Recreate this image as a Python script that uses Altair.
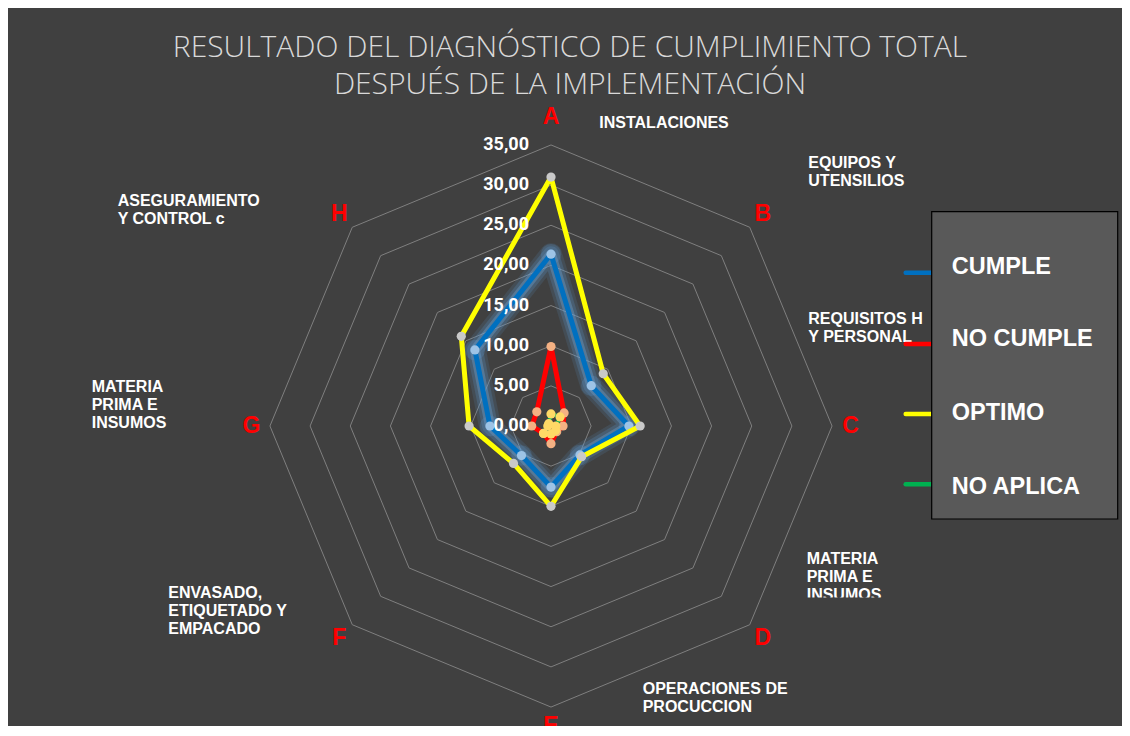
import math
import altair as alt
import pandas as pd

# ---------------- data ----------------
categories = ["A", "B", "C", "D", "E", "F", "G", "H"]
category_names = [
    "INSTALACIONES",
    "EQUIPOS Y\nUTENSILIOS",
    "REQUISITOS H\nY PERSONAL",
    "MATERIA\nPRIMA E\nINSUMOS",
    "OPERACIONES DE\nPROCUCCION",
    "ENVASADO,\nETIQUETADO Y\nEMPACADO",
    "MATERIA\nPRIMA E\nINSUMOS",
    "ASEGURAMIENTO\nY CONTROL c",
]
series_names = ["CUMPLE", "NO CUMPLE", "OPTIMO", "NO APLICA"]
cumple = [21.4, 7.1, 9.7, 5.1, 7.6, 5.2, 7.6, 13.4]
no_cumple = [9.9, 2.3, 1.5, 1.0, 2.2, 1.3, 2.4, 2.5]
optimo = [31.0, 9.2, 11.1, 5.4, 10.0, 6.6, 10.2, 15.8]
no_aplica = [1.5, 1.6, 0.6, 0.8, 1.0, 1.3, 0.4, 0.4]
tick_values = [0, 5, 10, 15, 20, 25, 30, 35]
tick_labels = ["0,00", "5,00", "10,00", "15,00", "20,00", "25,00", "30,00", "35,00"]
title_lines = ["RESULTADO DEL DIAGNÓSTICO DE CUMPLIMIENTO TOTAL",
               "DESPUÉS DE LA IMPLEMENTACIÓN"]

# ---------------- layout ----------------
W, H = 1114, 718
CX, CY = 543, 418          # centre of the radar in chart pixels
PX = 8.03                  # pixels per unit
BG = "#404040"

def ux(px):
    return (px - CX) / PX

def uy(py):
    return (CY - py) / PX

xdom = [ux(0), ux(W)]
ydom = [uy(H), uy(0)]
X = alt.X("x:Q", scale=alt.Scale(domain=xdom, nice=False, zero=False), axis=None)
Y = alt.Y("y:Q", scale=alt.Scale(domain=ydom, nice=False, zero=False), axis=None)

def polar(v, i):
    a = math.radians(45 * i)
    return v * math.sin(a), v * math.cos(a)

# rings
ring_rows = []
for r in tick_values[1:]:
    for k in range(9):
        x, y = polar(r, k % 8)
        ring_rows.append({"ring": r, "order": k, "x": x, "y": y})
rings = alt.Chart(pd.DataFrame(ring_rows)).mark_line(
    stroke="#7F7F7F", strokeWidth=1
).encode(X, Y, detail="ring:N", order=alt.Order("order:Q"))

def series_df(vals, close=True):
    rows = []
    n = 9 if close else 8
    for k in range(n):
        x, y = polar(vals[k % 8], k % 8)
        rows.append({"order": k, "x": x, "y": y, "cat": categories[k % 8], "v": vals[k % 8]})
    return pd.DataFrame(rows)

def line(vals, color, width, opacity=1.0):
    return alt.Chart(series_df(vals)).mark_line(
        stroke=color, strokeWidth=width, opacity=opacity, strokeJoin="round", strokeCap="round"
    ).encode(X, Y, order=alt.Order("order:Q"))

def points(vals, color, size=85, opacity=1.0):
    return alt.Chart(series_df(vals, close=False)).mark_circle(
        color=color, size=size, opacity=opacity
    ).encode(X, Y)

series_layers = [
    line(cumple, "#5B9BD5", 22, 0.14),
    line(cumple, "#5B9BD5", 16, 0.22),
    line(cumple, "#6FA8DC", 10, 0.35),
    points(cumple, "#5B9BD5", 420, 0.22),
    line(cumple, "#0070C0", 5),
    points(cumple, "#9DC3E6"),
    line(no_cumple, "#FF0000", 5),
    points(no_cumple, "#F4B183"),
    line(optimo, "#FFFF00", 5),
    points(optimo, "#C9C9C9"),
    line(no_aplica, "#00B050", 4),
    points(no_aplica, "#FFD966"),
]

# category letters
letter_rows = []
for i, c in enumerate(categories):
    r = 38.5 if i == 0 else 37.3
    x, y = polar(r, i)
    letter_rows.append({"x": x, "y": y, "t": c})
letters = alt.Chart(pd.DataFrame(letter_rows)).mark_text(
    color="#FF0000", font="Liberation Sans", fontWeight="bold", fontSize=23,
    align="center", baseline="middle"
).encode(X, Y, text="t:N")

# category names (anchor: left / first baseline, in chart pixels)
name_anchor_px = [(591.3, 120), (800.3, 159.7), (800.3, 316), (798.7, 556),
                  (634.7, 686), (160.3, 590.4), (83.7, 383.7), (109.7, 198)]
name_rows = [{"x": ux(px), "y": uy(py), "t": n}
             for (px, py), n in zip(name_anchor_px, category_names)]
names = alt.Chart(pd.DataFrame(name_rows)).mark_text(
    color="#FFFFFF", font="Liberation Sans", fontWeight="bold", fontSize=16,
    align="left", baseline="alphabetic", lineBreak="\n", lineHeight=18
).encode(X, Y, text="t:N")

# clip box over the lower name label (as in the original)
cover = alt.Chart(pd.DataFrame([{"x": ux(795), "x2": ux(905), "y": uy(589.6), "y2": uy(605)}])).mark_rect(
    color=BG
).encode(X, alt.X2("x2:Q"), Y, alt.Y2("y2:Q"))

# tick labels
tick_df = pd.DataFrame({"x": [ux(521)] * len(tick_values), "y": tick_values, "t": tick_labels})
ticks = alt.Chart(tick_df).mark_text(
    color="#FFFFFF", font="Roboto", fontWeight="bold", fontSize=18,
    align="right", baseline="middle"
).encode(X, Y, text="t:N")

# legend
legend_colors = ["#0070C0", "#FF0000", "#FFFF00", "#00B050"]
leg_line_py = [264.7, 336, 406, 476.3]
leg_text_py = [258.7, 331.3, 405.3, 478.7]
leg_lines = alt.Chart(pd.DataFrame({
    "x": [ux(897.7)] * 4, "x2": [ux(926)] * 4,
    "y": [uy(p) for p in leg_line_py], "c": legend_colors})).mark_rule(
    strokeWidth=4.5, strokeCap="round"
).encode(X, alt.X2("x2:Q"), Y, color=alt.Color("c:N", scale=None))
leg_box = alt.Chart(pd.DataFrame([{"x": ux(923.7), "x2": ux(1109.7), "y": uy(203.7), "y2": uy(511)}])).mark_rect(
    fill="#595959", stroke="#000000", strokeWidth=1.2
).encode(X, alt.X2("x2:Q"), Y, alt.Y2("y2:Q"))
leg_text = alt.Chart(pd.DataFrame({
    "x": [ux(943.7)] * 4, "y": [uy(p) for p in leg_text_py], "t": series_names})).mark_text(
    color="#FFFFFF", font="Liberation Sans", fontWeight="bold", fontSize=23.5,
    align="left", baseline="middle"
).encode(X, Y, text="t:N")

# title
title_df = pd.DataFrame({"x": [ux(562)] * 2, "y": [uy(49), uy(86)], "t": title_lines})
title = alt.Chart(title_df).mark_text(
    color="#D9D9D9", font="Open Sans", fontWeight=300, fontSize=30,
    align="center", baseline="alphabetic"
).encode(X, Y, text="t:N")

chart = alt.layer(
    rings, names, letters, *series_layers, ticks, cover, leg_lines, leg_box, leg_text, title
).properties(
    width=W, height=H,
    autosize=alt.AutoSizeParams(type="none"),
    padding=0,
).configure(background=BG).configure_view(stroke=None)

chart.save("out.html", embed_options={"renderer": "svg", "actions": False})
